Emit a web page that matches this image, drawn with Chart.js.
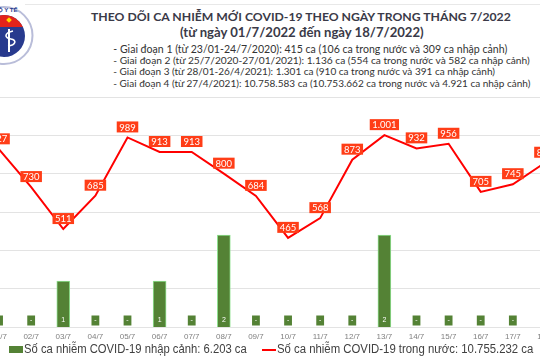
<!DOCTYPE html>
<html>
<head>
<meta charset="utf-8">
<script src="https://cdn.jsdelivr.net/npm/chart.js@4.4.1/dist/chart.umd.min.js"></script>
<style>
  html,body{margin:0;padding:0;background:#fff;}
  body{width:540px;height:360px;position:relative;overflow:hidden;font-family:Lato,"Liberation Sans",sans-serif;}
  #topline{position:absolute;left:25px;top:4px;width:515px;height:1px;background:#e8e8e8;}
  #logo{position:absolute;left:0;top:0;}
  .title{position:absolute;font-weight:bold;color:#3a3a48;white-space:nowrap;line-height:1;}
  #t1{top:10.5px;left:91px;font-size:13px;}
  #t2{top:26px;left:180px;font-size:13px;}
  .sub{position:absolute;left:113.3px;font-size:9.6px;color:#333;white-space:nowrap;line-height:1;}
  #wrap{position:absolute;left:-17.45px;top:96.5px;width:578px;height:250px;}
  .leg{position:absolute;top:343px;font-family:"Liberation Sans",Arial,sans-serif;font-size:12.5px;color:#404040;white-space:nowrap;line-height:1;transform-origin:0 50%;}
  #lg1{left:24px;}
  #lg2{left:277px;}
  #box1{position:absolute;left:9px;top:346px;width:14px;height:7px;background:#548235;}
  #line2{position:absolute;left:262px;top:349px;width:14px;height:2px;background:#ff0000;}
</style>
</head>
<body>
<div id="topline"></div>
<svg id="logo" width="60" height="70" viewBox="0 0 60 70">
  <defs><clipPath id="inner"><circle cx="4" cy="36" r="21"/></clipPath></defs>
  <circle cx="4" cy="35.5" r="28.5" fill="#fff" stroke="#b9bdd9" stroke-width="2"/>
  <circle cx="4" cy="36" r="21" fill="#283a8e"/>
  <rect x="-20" y="10" width="50" height="17" fill="#e2231a" clip-path="url(#inner)"/>
  <rect x="7" y="18" width="4" height="4" fill="#ffd800" transform="rotate(45 9 20)"/>
  <rect x="8" y="29" width="2" height="23" fill="#fff"/>
  <path d="M13 31 C4 33,4 38,11 39 C17 40,16 45,8 46" stroke="#fff" stroke-width="1.6" fill="none"/>
  <text x="-2" y="12" font-size="6" font-family="Liberation Sans" font-weight="bold" fill="#283a8e">Ộ Y TẾ</text>
</svg>
<div class="title" id="t1">THEO DÕI CA NHIỄM MỚI COVID-19 THEO NGÀY TRONG THÁNG 7/2022</div>
<div class="title" id="t2">(từ ngày 01/7/2022 đến ngày 18/7/2022)</div>
<div class="sub" id="s1" style="top:43.5px">- Giai đoạn 1 (từ 23/01-24/7/2020): 415 ca (106 ca trong nước và 309 ca nhập cảnh)</div>
<div class="sub" id="s2" style="top:54.8px">- Giai đoạn 2 (từ 25/7/2020-27/01/2021): 1.136 ca (554 ca trong nước và 582 ca nhập cảnh)</div>
<div class="sub" id="s3" style="top:66.3px">- Giai đoạn 3 (từ 28/01-26/4/2021): 1.301 ca (910 ca trong nước và 391 ca nhập cảnh)</div>
<div class="sub" id="s4" style="top:78px">- Giai đoạn 4 (từ 27/4/2021): 10.758.583 ca (10.753.662 ca trong nước và 4.921 ca nhập cảnh)</div>
<div id="wrap"><canvas id="c"></canvas></div>
<div id="box1"></div>
<div class="leg" id="lg1">Số ca nhiễm COVID-19 nhập cảnh: 6.203 ca</div>
<div id="line2"></div>
<div class="leg" id="lg2">Số ca nhiễm COVID-19 trong nước: 10.755.232 ca</div>
<script>
const categories = ["01/7","02/7","03/7","04/7","05/7","06/7","07/7","08/7","09/7","10/7","11/7","12/7","13/7","14/7","15/7","16/7","17/7","18/7"];
const importedCases = [0,0,1,0,0,1,0,2,0,0,0,0,2,0,0,0,0,0];
const domesticCases = [927,730,511,685,989,913,913,800,684,465,568,873,1001,932,956,705,745,857];
const seriesNames = ["Số ca nhiễm COVID-19 nhập cảnh: 6.203 ca","Số ca nhiễm COVID-19 trong nước: 10.755.232 ca"];

// fit text widths to the reference
const textWidths = {t1:420, t2:244, s1:394, s2:416.7, s3:382, s4:417.4};
for (const id in textWidths){
  const el = document.getElementById(id);
  const fs = parseFloat(getComputedStyle(el).fontSize);
  const w = el.getBoundingClientRect().width;
  el.style.fontSize = (fs * textWidths[id] / w) + 'px';
}
const legendWidths = {lg1:222.7, lg2:256.3};
for (const id in legendWidths){
  const el = document.getElementById(id);
  const w = el.getBoundingClientRect().width;
  el.style.transform = 'scaleX(' + (legendWidths[id] / w) + ')';
}

function fmt(v){ return String(v).replace(/\B(?=(\d{3})+(?!\d))/g,"."); }

const labelPlugin = {
  id:'labels',
  afterDatasetsDraw(chart){
    const ctx = chart.ctx;
    ctx.save();
    const bm = chart.getDatasetMeta(0);
    const base = chart.scales.y1.getPixelForValue(0);
    bm.data.forEach((el,i)=>{
      const v = importedCases[i];
      ctx.font = '7px "Liberation Sans", sans-serif';
      ctx.textAlign='center'; ctx.textBaseline='middle';
      if(v===0){
        ctx.fillStyle='#548235';
        ctx.fillRect(el.x-3.9, base-11.5, 7.8, 10);
        ctx.fillStyle='#fff';
        ctx.fillText('-', el.x, base-6.5);
      } else {
        ctx.fillStyle='#fff';
        ctx.fillText(String(v), el.x, base-6.5);
      }
    });
    const lm = chart.getDatasetMeta(1);
    lm.data.forEach((el,i)=>{
      const t = fmt(domesticCases[i]);
      ctx.font = '9.5px Lato, "Open Sans", sans-serif';
      const w = ctx.measureText(t).width + 5;
      const h = 11;
      const bottom = el.y - 5;
      ctx.fillStyle = '#ff3d17';
      ctx.fillRect(el.x - w/2, bottom - h, w, h);
      ctx.fillStyle = '#fff';
      ctx.textAlign='center'; ctx.textBaseline='middle';
      ctx.fillText(t, el.x, bottom - h/2 + 0.5);
    });
    ctx.restore();
  }
};

new Chart(document.getElementById('c'), {
  data:{
    labels:categories,
    datasets:[
      {type:'bar',label:seriesNames[0],data:importedCases,yAxisID:'y1',backgroundColor:'#548235',borderColor:'#8fe08f',borderWidth:1,barThickness:13,order:2},
      {type:'line',label:seriesNames[1],data:domesticCases,yAxisID:'y',borderColor:'#ff0000',borderWidth:2,pointRadius:0,tension:0,order:1}
    ]
  },
  options:{
    responsive:true,maintainAspectRatio:false,animation:false,
    layout:{padding:0},
    plugins:{legend:{display:false},tooltip:{enabled:false}},
    scales:{
      x:{offset:true,grid:{display:false,drawTicks:false},border:{display:false},
         ticks:{color:'#808080',font:{size:8,family:'"Liberation Sans", sans-serif'},padding:5,maxRotation:0,autoSkip:false},
         afterFit(s){s.height=20;}},
      y:{position:'left',min:0,max:1200,ticks:{stepSize:200,display:false},
         grid:{color:'#e3e3e3',drawTicks:false,lineWidth:1},border:{display:false},
         afterFit(s){s.width=0;}},
      y1:{position:'right',min:0,max:5,display:false,afterFit(s){s.width=0;}}
    }
  },
  plugins:[labelPlugin]
});
</script>
</body>
</html>
